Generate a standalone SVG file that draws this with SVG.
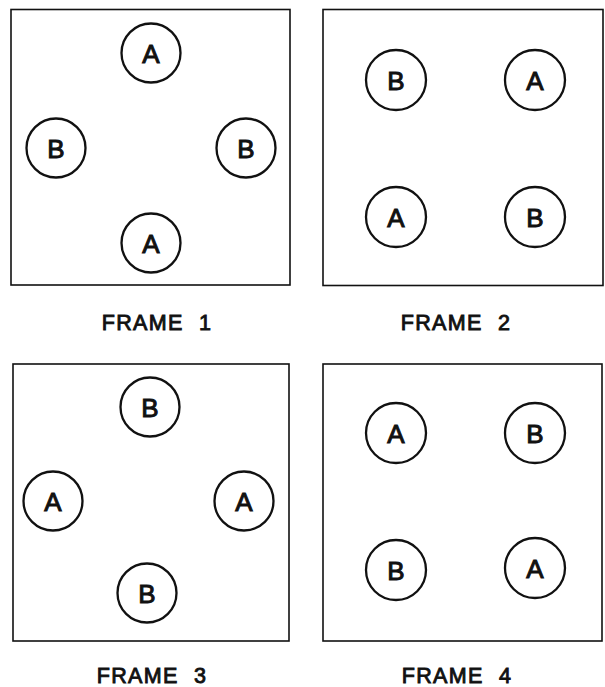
<svg xmlns="http://www.w3.org/2000/svg" width="605" height="687" viewBox="0 0 605 687">
<style>
.frame{fill:none;stroke:#111;stroke-width:1.6}
.node circle{fill:#fff;stroke:#111;stroke-width:2.3}
.node text{font-family:"Liberation Sans",Arial,sans-serif;font-size:26px;fill:#111;stroke:#111;stroke-width:1;text-anchor:middle}
.label{font-family:"Liberation Sans",Arial,sans-serif;font-size:21.5px;fill:#111;stroke:#111;stroke-width:0.9;letter-spacing:1.3px;word-spacing:8px;text-anchor:middle}
</style>
<rect width="605" height="687" fill="#fff"/>
<g id="connectors"></g>
<g id="frame1">
<rect class="frame" x="11" y="9.5" width="279" height="275.5"/>
<g class="node" id="f1-top"><circle cx="151" cy="53" r="29.5"/><text x="151" y="62.5">A</text></g>
<g class="node" id="f1-left"><circle cx="56" cy="148" r="29.5"/><text x="56" y="157.5">B</text></g>
<g class="node" id="f1-right"><circle cx="246" cy="148" r="29.5"/><text x="246" y="157.5">B</text></g>
<g class="node" id="f1-bottom"><circle cx="151" cy="243" r="29.5"/><text x="151" y="252.5">A</text></g>
<text class="label" x="157" y="330">FRAME 1</text>
</g>
<g id="frame2">
<rect class="frame" x="323" y="9.5" width="280" height="276"/>
<g class="node" id="f2-tl"><circle cx="396" cy="80" r="30"/><text x="396" y="89.5">B</text></g>
<g class="node" id="f2-tr"><circle cx="535" cy="80" r="30"/><text x="535" y="89.5">A</text></g>
<g class="node" id="f2-bl"><circle cx="396" cy="217" r="30"/><text x="396" y="226.5">A</text></g>
<g class="node" id="f2-br"><circle cx="535" cy="217" r="30"/><text x="535" y="226.5">B</text></g>
<text class="label" x="456" y="330">FRAME 2</text>
</g>
<g id="frame3">
<rect class="frame" x="13" y="364" width="276" height="277"/>
<g class="node" id="f3-top"><circle cx="150" cy="407" r="29.5"/><text x="150" y="416.5">B</text></g>
<g class="node" id="f3-left"><circle cx="53" cy="501" r="29.5"/><text x="53" y="510.5">A</text></g>
<g class="node" id="f3-right"><circle cx="244" cy="501" r="29.5"/><text x="244" y="510.5">A</text></g>
<g class="node" id="f3-bottom"><circle cx="147" cy="593" r="29.5"/><text x="147" y="602.5">B</text></g>
<text class="label" x="152" y="683">FRAME 3</text>
</g>
<g id="frame4">
<rect class="frame" x="323" y="364" width="279" height="277"/>
<g class="node" id="f4-tl"><circle cx="396" cy="433" r="30"/><text x="396" y="442.5">A</text></g>
<g class="node" id="f4-tr"><circle cx="535" cy="433" r="30"/><text x="535" y="442.5">B</text></g>
<g class="node" id="f4-bl"><circle cx="396" cy="570" r="30"/><text x="396" y="579.5">B</text></g>
<g class="node" id="f4-br"><circle cx="535" cy="568" r="30"/><text x="535" y="577.5">A</text></g>
<text class="label" x="457" y="683">FRAME 4</text>
</g>
</svg>
